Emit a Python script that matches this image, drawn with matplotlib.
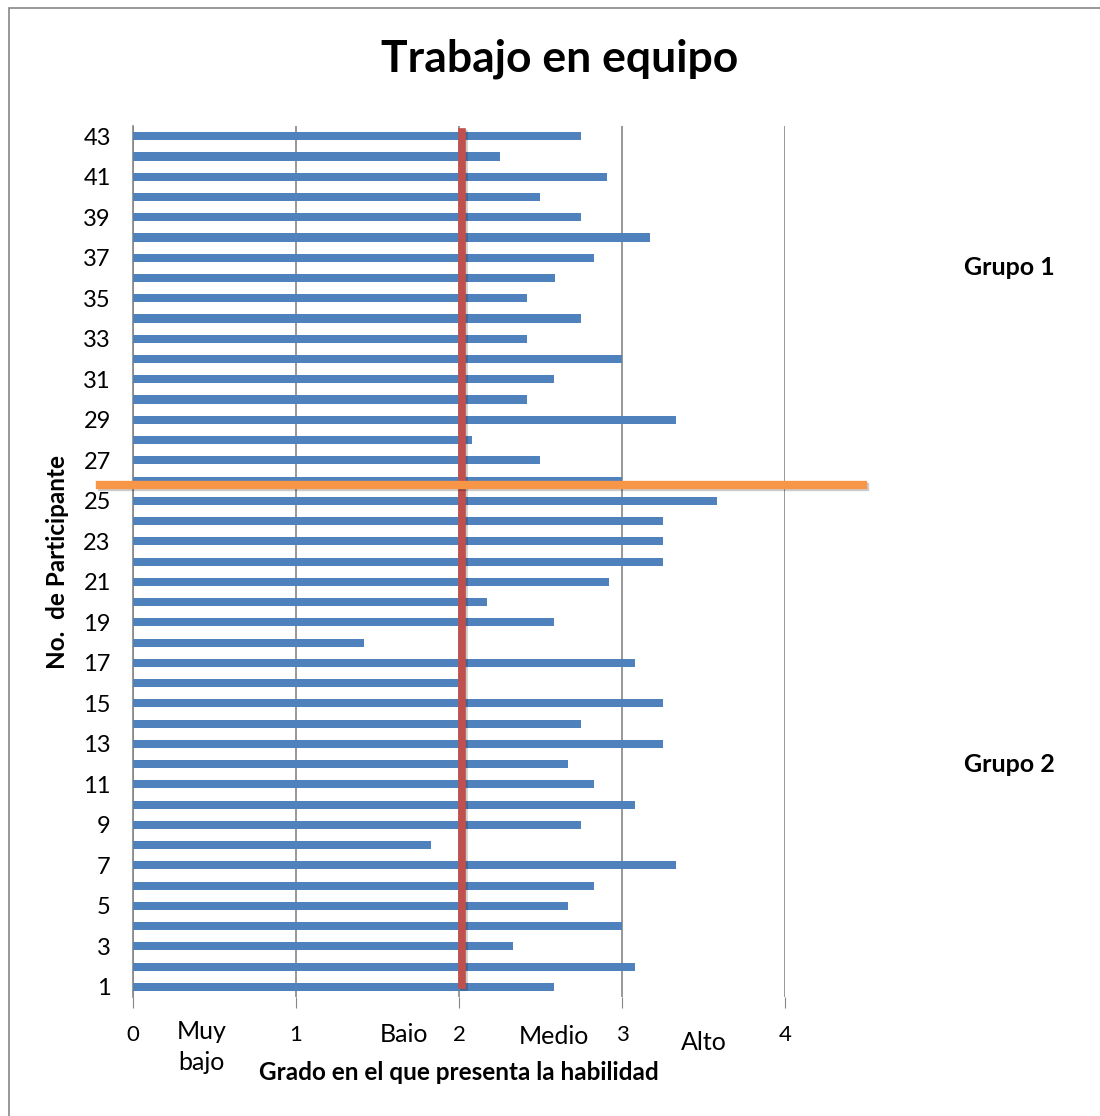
import matplotlib.pyplot as plt
import matplotlib.transforms as mtransforms
import matplotlib.patheffects as pe
from matplotlib.patches import Rectangle

plt.rcParams['font.family'] = ['Lato', 'DejaVu Sans']

# participant numbers and scores
participantes = list(range(1, 44))
puntajes = [2.58, 3.08, 2.33, 3.00, 2.67, 2.83, 3.33, 1.83, 2.75, 3.08,
            2.83, 2.67, 3.25, 2.75, 3.25, 2.00, 3.08, 1.42, 2.58, 2.17,
            2.92, 3.25, 3.25, 3.25, 3.58, 3.00, 2.50, 2.08, 3.33, 2.42,
            2.58, 3.00, 2.42, 2.75, 2.42, 2.59, 2.83, 3.17, 2.75, 2.50,
            2.91, 2.25, 2.75]
niveles = ['Muy\nbajo', 'Baio', 'Medio', 'Alto']
niveles_x = [0.42, 1.66, 2.58, 3.5]
niveles_y = [1047, 1035, 1037, 1043]  # pixel rows of the labels
media = 2.02
corte_grupos = 25.8

W, H = 1100, 1116
fig = plt.figure(figsize=(W / 100, H / 100), dpi=100)
ax = fig.add_axes([0.1209, 0.1066, 0.5927, 0.7804])

ax.barh(participantes, puntajes, height=0.4, color='#4F81BD', zorder=3)

ax.set_xlim(0, 4)
ax.set_ylim(0.5, 43.5)
ax.set_xticks([0, 1, 2, 3, 4])
ax.set_yticks(range(1, 44, 2))
ax.tick_params(axis='y', length=0, labelsize=17, pad=16)
ax.tick_params(axis='x', length=8, color='#868686', labelsize=16, pad=12, direction='out')
ax.grid(axis='x', color='#868686', linewidth=1.2, zorder=0)
for s in ['top', 'right', 'bottom']:
    ax.spines[s].set_visible(False)
ax.spines['left'].set_color('#868686')
ax.spines['left'].set_linewidth(1.2)

# level names under the axis (x in data, y in figure)
trans = mtransforms.blended_transform_factory(ax.transData, fig.transFigure)
for x, yp, t in zip(niveles_x, niveles_y, niveles):
    ax.text(x, 1 - yp / H, t, transform=trans, ha='center', va='center',
            fontsize=18, linespacing=1.45)

# mean line and group divider
sombra = [pe.SimpleLineShadow(offset=(1.5, -1.5), alpha=0.2), pe.Normal()]
ax.plot([media, media], [43.2, 1.1], color='#C0504D', linewidth=5.5, zorder=5,
        clip_on=False, path_effects=sombra)
ax.plot([-0.2, 4.48], [corte_grupos, corte_grupos], color='#F79646', linewidth=6,
        zorder=6, clip_on=False, path_effects=sombra)

ax.set_ylabel('No.  de Participante', fontsize=17.5, fontweight='bold', labelpad=10)
fig.text(459 / W, 1 - 1073 / H, 'Grado en el que presenta la habilidad',
         ha='center', va='center', fontsize=17.5, fontweight='bold')

fig.text(0.509, 0.947, 'Trabajo en equipo', ha='center', va='center', fontsize=32,
         fontweight='bold')
fig.text(0.918, 0.760, 'Grupo 1', ha='center', va='center', fontsize=18, fontweight='bold')
fig.text(0.918, 0.315, 'Grupo 2', ha='center', va='center', fontsize=18, fontweight='bold')

fig.patches.append(Rectangle((0.008, -0.01), 1.5, 1.003, transform=fig.transFigure,
                             fill=False, edgecolor='#868686', linewidth=1.2))

fig.savefig('out.png', dpi=100)
